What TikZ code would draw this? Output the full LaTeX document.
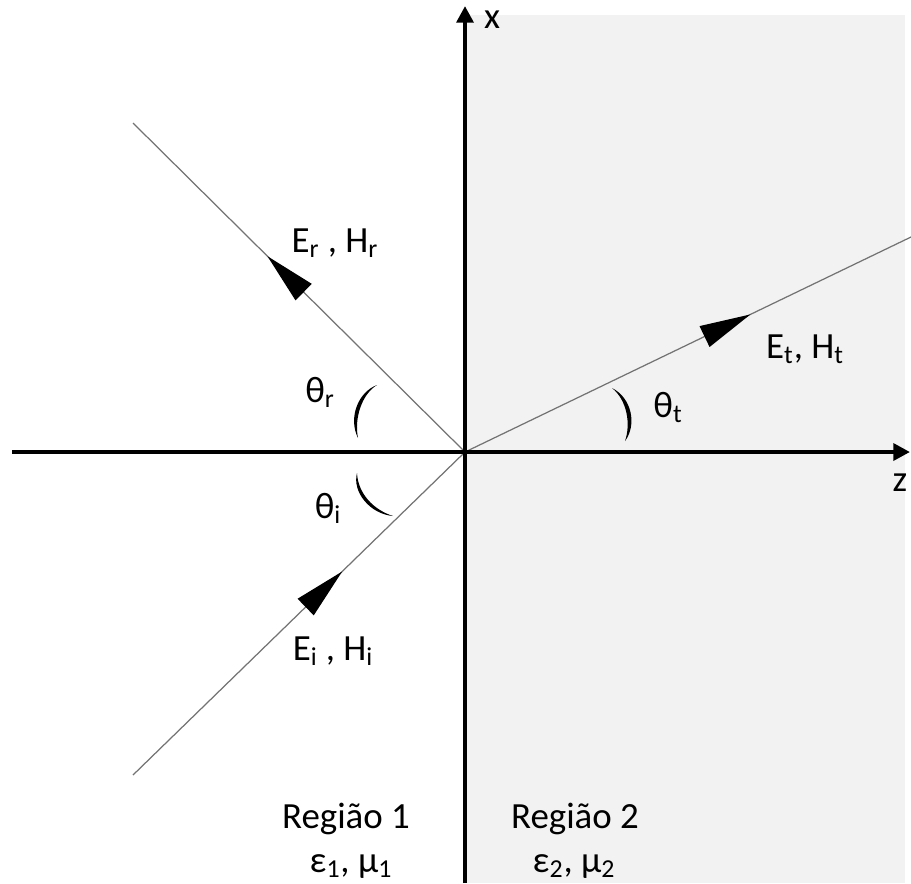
\documentclass[tikz,border=0pt]{standalone}
\usepackage{fontspec}
\setmainfont{Carlito}
\usetikzlibrary{arrows.meta,decorations.markings}
\definecolor{regiongray}{HTML}{F2F2F2}

\begin{document}
\begin{tikzpicture}[x=0.02cm, y=-0.02cm, every node/.style={font=\fontsize{21}{25}\selectfont, inner sep=0pt},
	axis/.style={line width=2.8pt, -{Triangle[length=9.5pt,width=9.5pt]}},
	ray/.style={black!55, line width=0.7pt},
	midarrow/.style={postaction={decorate, decoration={markings, mark=at position #1 with {\arrow[black]{Triangle[length=29pt,width=13pt]}}}}},
	crescent/.style={fill=black, draw=none}]
	\useasboundingbox (0,0) rectangle (911,883);
	\fill[regiongray] (465,15) rectangle (905,883);
	\coordinate (O) at (465,452);
	\coordinate (zstart) at (12,452);
	\coordinate (zend) at (910,452);
	\coordinate (xstart) at (465,883);
	\coordinate (xend) at (465,6);
	\coordinate (inc) at (133,775);
	\coordinate (refl) at (133,123);
	\coordinate (trans) at (911,237);
	\draw[ray, midarrow=0.63] (inc) -- (O);
	\draw[ray, midarrow=0.595] (O) -- (refl);
	\draw[ray, midarrow=0.64] (O) -- (trans);
	\draw[axis] (zstart) -- (zend);
	\draw[axis] (xstart) -- (xend);
	% angle marks
	\fill[crescent] (377,385) .. controls (358,392) and (348,418) .. (358,438) .. controls (354,418) and (362,394) .. (377,385);
	\fill[crescent] (357,473) .. controls (352,492) and (370,514) .. (393,516) .. controls (374,510) and (358,494) .. (357,473);
	\fill[crescent] (612,388) .. controls (632,398) and (637,425) .. (625,441) .. controls (631,424) and (627,400) .. (612,388);
	% labels
	\node[anchor=base] (lblx) at (492,28) {x};
	\node[anchor=base] (lblz) at (900,491) {z};
	\node[anchor=base] (lblEr) at (335,252) {E\textsubscript{r} , H\textsubscript{r}};
	\node[anchor=base] (lblEt) at (805,358) {E\textsubscript{t}, H\textsubscript{t}};
	\node[anchor=base] (lblEi) at (333,660) {E\textsubscript{i} , H\textsubscript{i}};
	\node[anchor=base] (lblthr) at (320,402) {θ\textsubscript{r}};
	\node[anchor=base] (lblthi) at (328,518) {θ\textsubscript{i}};
	\node[anchor=base] (lbltht) at (668,417) {θ\textsubscript{t}};
	\node[anchor=base] (reg1) at (346,828) {Região 1};
	\node[anchor=base] (med1) at (351,872) {ε\textsubscript{1}, μ\textsubscript{1}};
	\node[anchor=base] (reg2) at (575,828) {Região 2};
	\node[anchor=base] (med2) at (574,872) {ε\textsubscript{2}, μ\textsubscript{2}};
\end{tikzpicture}
\end{document}
